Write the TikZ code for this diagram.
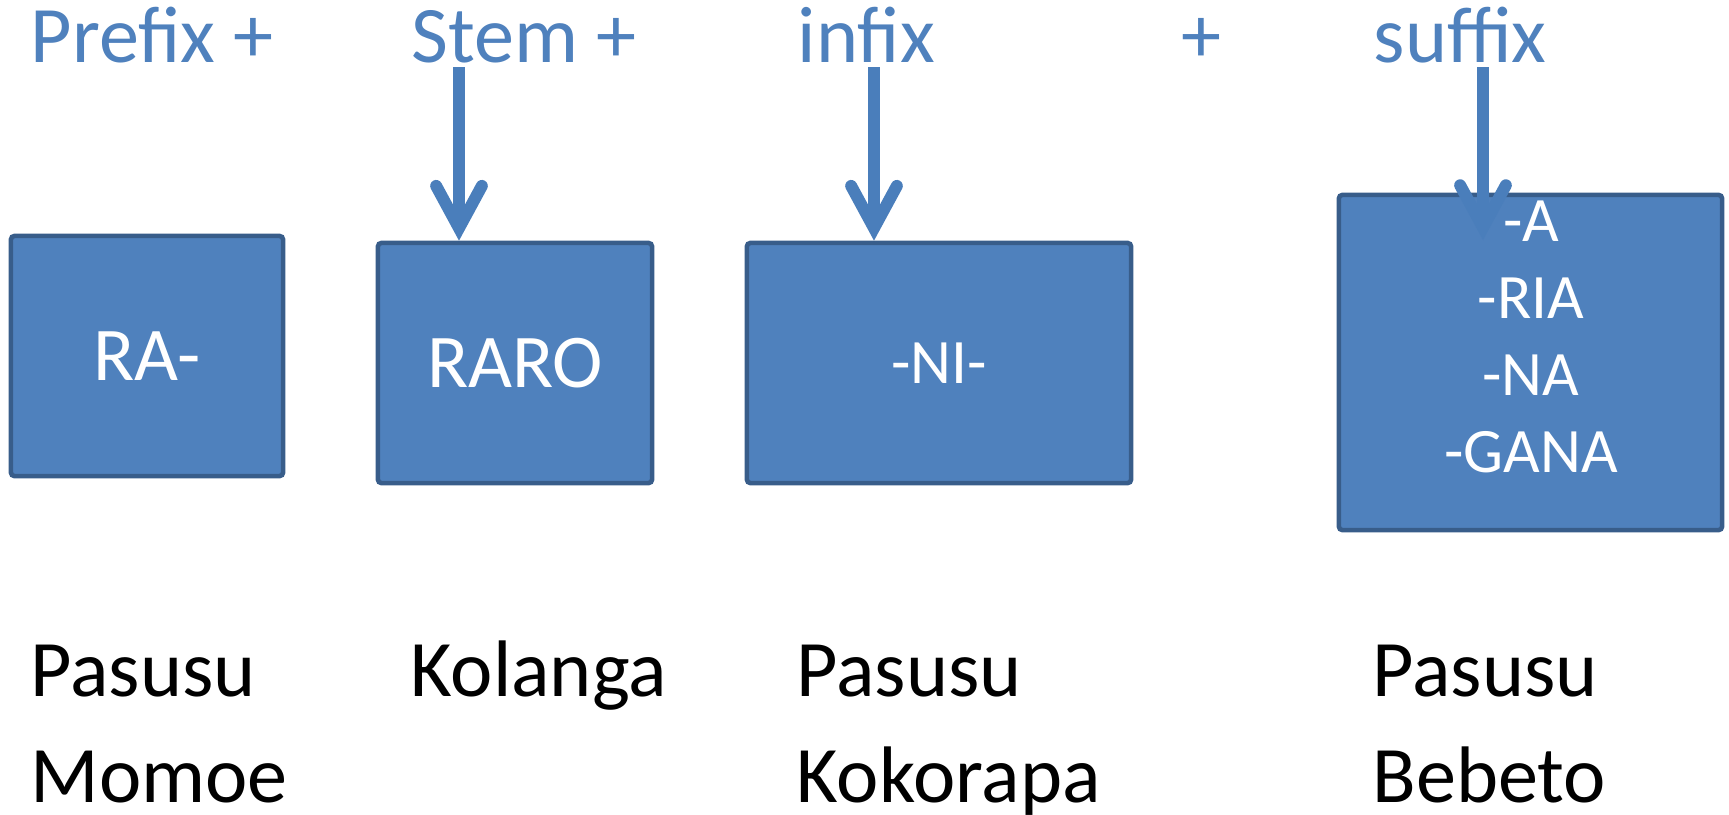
\documentclass[tikz,border=0pt]{standalone}
\usepackage{fontspec}
\setmainfont{Carlito}
\usetikzlibrary{arrows.meta,positioning}
\definecolor{BoxFill}{HTML}{4F81BD}
\definecolor{BoxLine}{HTML}{385D8A}
\definecolor{ArrowBlue}{HTML}{4A7EBB}

\begin{document}
\begin{tikzpicture}
    [
        x=0.01cm, y=-0.01cm,
        Box/.style={rectangle, draw=BoxLine, fill=BoxFill, line width=1.3pt, rounded corners=1pt, text=white, inner sep=0pt, font=\fontsize{21.6}{26}\selectfont},
        SmallBox/.style={Box, font=\fontsize{18}{21.9}\selectfont},
        Heading/.style={anchor=base west, inner sep=0pt, text=BoxFill, font=\fontsize{22.8}{27}\selectfont},
        Word/.style={anchor=base west, inner sep=0pt, font=\fontsize{22.8}{27}\selectfont},
        Pointer/.style={draw=ArrowBlue, line width=3.4pt, -{Straight Barb[length=12pt, width=13pt, line cap=round, line join=miter]}}
    ]
    \useasboundingbox (0,0) rectangle (1729,814);

    % headings
    \node[Heading] (Prefix) at (30,62) {Prefix +};
    \node[Heading] (Stem) at (411,62) {Stem +};
    \node[Heading] (Infix) at (797,62) {infix};
    \node[Heading] (Plus) at (1181,62) {+};
    \node[Heading] (Suffix) at (1373,62) {suffix};

    % morpheme boxes
    \node[Box, minimum width=2.72cm, minimum height=2.40cm] (PrefixBox) at (147,356) {RA-};
    \node[Box, minimum width=2.74cm, minimum height=2.40cm] (StemBox) at (515,363) {RARO};
    \node[SmallBox, minimum width=3.84cm, minimum height=2.40cm] (InfixBox) at (939,363) {-NI-};
    \node[SmallBox, minimum width=3.83cm, minimum height=3.35cm] (SuffixBox) at (1530.5,362.5) {};
    \node[anchor=north, inner sep=0pt, align=center, text=white, font=\fontsize{18}{21.9}\selectfont] (SuffixList) at (1531,200) {-A\\-RIA\\-NA\\-GANA};

    % arrows
    \coordinate (StemArrow) at (459,67);
    \coordinate (InfixArrow) at (874,67);
    \coordinate (SuffixArrow) at (1483,67);
    \coordinate (SuffixTip) at (1483,240);
    \draw[Pointer] (StemArrow) -- (StemArrow |- StemBox.north);
    \draw[Pointer] (InfixArrow) -- (InfixArrow |- InfixBox.north);
    \draw[Pointer] (SuffixArrow) -- (SuffixTip);

    % examples
    \node[Word] (PrefixEx1) at (30,696) {Pasusu};
    \node[Word] (PrefixEx2) at (30,802) {Momoe};
    \node[Word] (StemEx1) at (410,696) {Kolanga};
    \node[Word] (InfixEx1) at (796,696) {Pasusu};
    \node[Word] (InfixEx2) at (796,802) {Kokorapa};
    \node[Word] (SuffixEx1) at (1372,696) {Pasusu};
    \node[Word] (SuffixEx2) at (1372,802) {Bebeto};
\end{tikzpicture}
\end{document}
